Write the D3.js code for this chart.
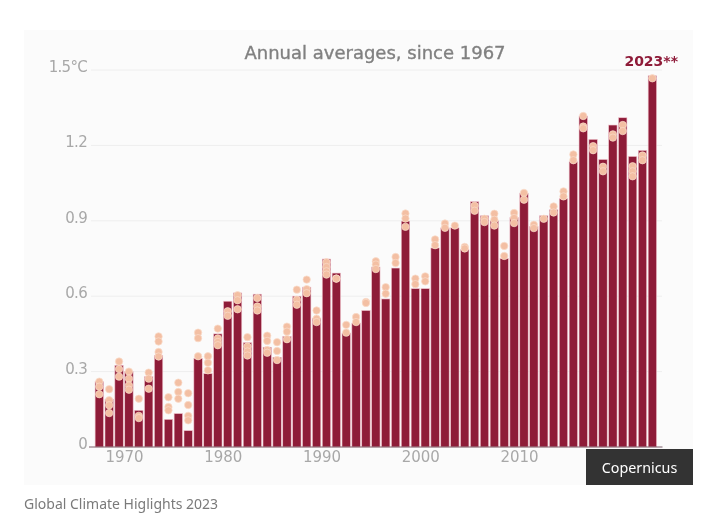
<!DOCTYPE html>
<html>
<head>
<meta charset="utf-8">
<script src="https://cdn.jsdelivr.net/npm/d3@7"></script>
<style>
    html, body { margin: 0; padding: 0; background: #fff; }
    svg { display: block; }
    .tick text { font-family: "DejaVu Sans", sans-serif; }
</style>
</head>
<body>
<div id="chart"></div>
<script>
var years = d3.range(1967, 2024);

// bar heights, degrees above 1850-1900
var anomalies = [
    .26, .19, .325, .30, .146, .28, .365, .11, .133, .065,
    .353, .292, .45, .58, .613, .415, .608, .397, .357, .44,
    .60, .636, .513, .748, .692, .453, .493, .543, .716, .589,
    .712, .899, .63, .63, .792, .872, .872, .786, .976, .92,
    .90, .75, .913, 1.01, .877, .92, .944, .988, 1.135, 1.317,
    1.224, 1.144, 1.281, 1.31, 1.156, 1.18, 1.477
];

// the single dataset dots for each year
var estimates = [
    [.26, .24, .21], [.23, .186, .166, .135], [.34, .31, .28], [.30, .272, .245, .228],
    [.192, .124, .115], [.296, .272, .232], [.44, .42, .378, .36], [.198, .159, .146],
    [.256, .219, .192], [.214, .167, .124, .106], [.455, .433, .361], [.361, .335, .305],
    [.471, .432, .418, .405], [.54, .522], [.604, .584, .548], [.437, .40, .38, .364],
    [.593, .559, .543], [.443, .422, .386, .375], [.417, .382, .346], [.479, .459, .429],
    [.626, .586, .566], [.666, .628, .612], [.543, .51, .497], [.735, .716, .699, .686],
    [.67, .67], [.486, .455], [.517, .497], [.577, .573], [.739, .726, .708], [.636, .61],
    [.756, .732], [.929, .909, .876], [.67, .648], [.679, .659], [.826, .803], [.889, .872],
    [.881], [.796, .79], [.96, .94], [.908, .895], [.928, .904, .881], [.80, .76],
    [.931, .911, .891], [1.011, .984], [.884, .871], [.908], [.957, .933], [1.017, .997],
    [1.164, 1.141], [1.317, 1.275, 1.268], [1.197, 1.181], [1.115, 1.097], [1.244, 1.231],
    [1.281, 1.257], [1.117, 1.097, 1.077], [1.16, 1.141], [1.467]
];

var yTicks = [0, .3, .6, .9, 1.2, 1.5];
var yLabels = ['0', '0.3', '0.6', '0.9', '1.2', '1.5°C'];
var xTicks = [1970, 1980, 1990, 2000, 2010, 2020];

var titleText = 'Annual averages, since 1967',
    lastLabel = '2023**',
    creditText = 'Copernicus',
    captionText = 'Global Climate Higlights 2023';

var wine = '#8e1a38',
    peach = '#f3bfa3',
    tickGrey = '#a8a8a8';

var svg = d3.select('#chart').append('svg')
    .attr('width', 718)
    .attr('height', 530);

// the reference is a slightly soft screenshot
svg.append('filter')
    .attr('id', 'soft')
    .append('feGaussianBlur')
    .attr('stdDeviation', .35);

// panel
svg.append('rect')
    .attr('x', 24).attr('y', 30)
    .attr('width', 669).attr('height', 455)
    .attr('fill', '#fbfbfb');

var plot = svg.append('g').attr('filter', 'url(#soft)');

var x = d3.scaleLinear().domain([1970, 2020]).range([124, 617.8]),
    y = d3.scaleLinear().domain([0, 1.5]).range([447, 70]);

// grid
plot.append('g')
    .selectAll('line')
    .data(yTicks.slice(1))
    .join('line')
    .attr('x1', 91).attr('x2', 662)
    .attr('y1', y).attr('y2', y)
    .attr('stroke', '#eeeeee');

// bars
var barWidth = 8.4;
plot.append('g')
    .selectAll('rect')
    .data(years)
    .join('rect')
    .attr('x', function(d){ return x(d + .5) - barWidth / 2; })
    .attr('width', barWidth)
    .attr('y', function(d, i){ return y(anomalies[i]); })
    .attr('height', function(d, i){ return y(0) - y(anomalies[i]); })
    .attr('fill', wine)
    .attr('stroke', '#f0c4cc')
    .attr('stroke-width', .6);

// dots
var dots = [];
years.forEach(function(year, i){
    estimates[i].forEach(function(v){
        dots.push({year: year, value: v});
    });
});
plot.append('g')
    .selectAll('circle')
    .data(dots)
    .join('circle')
    .attr('cx', function(d){ return x(d.year + .5); })
    .attr('cy', function(d){ return y(d.value); })
    .attr('r', 3.7)
    .attr('fill', peach)
    .attr('stroke', '#f9dccb')
    .attr('stroke-width', .7);

// axes
var yAxis = d3.axisLeft(y)
    .tickValues(yTicks)
    .tickFormat(function(d, i){ return yLabels[i]; })
    .tickSize(0)
    .tickPadding(4);
var gy = plot.append('g')
    .attr('transform', 'translate(91,0)')
    .call(yAxis);
gy.select('.domain').remove();
gy.selectAll('text')
    .attr('dy', '.1em')
    .attr('fill', tickGrey)
    .attr('font-size', 15)
    .attr('letter-spacing', -.7);

var xAxis = d3.axisBottom(x)
    .tickValues(xTicks)
    .tickFormat(d3.format('d'))
    .tickSize(0)
    .tickPadding(4);
var gx = plot.append('g')
    .attr('transform', 'translate(0,447)')
    .call(xAxis);
gx.select('.domain').remove();
gx.selectAll('text')
    .attr('fill', tickGrey)
    .attr('font-size', 15);

plot.append('line')
    .attr('x1', 89).attr('x2', 662.5)
    .attr('y1', y(0)).attr('y2', y(0))
    .attr('stroke', '#7a5f68')
    .attr('stroke-width', 1);

// title
plot.append('text')
    .attr('x', 375).attr('y', 59)
    .attr('text-anchor', 'middle')
    .attr('font-family', '"DejaVu Sans", sans-serif')
    .attr('font-size', 18)
    .attr('fill', '#808080')
    .attr('stroke', '#808080')
    .attr('stroke-width', .35)
    .text(titleText);

plot.append('text')
    .attr('x', 678).attr('y', 66)
    .attr('text-anchor', 'end')
    .attr('font-family', '"DejaVu Sans", sans-serif')
    .attr('font-weight', 'bold')
    .attr('font-size', 14)
    .attr('fill', wine)
    .text(lastLabel);

// credit box sits over the 2020 label
svg.append('rect')
    .attr('x', 586).attr('y', 449)
    .attr('width', 107).attr('height', 36)
    .attr('fill', '#333333');
svg.append('text')
    .attr('x', 639.5).attr('y', 473)
    .attr('text-anchor', 'middle')
    .attr('font-family', '"Noto Sans", sans-serif')
    .attr('font-size', 14.3)
    .attr('fill', '#ffffff')
    .text(creditText);

svg.append('text')
    .attr('x', 24).attr('y', 509)
    .attr('font-family', '"Noto Sans", sans-serif')
    .attr('font-size', 14)
    .attr('fill', '#7a7a7a')
    .text(captionText);
</script>
</body>
</html>
